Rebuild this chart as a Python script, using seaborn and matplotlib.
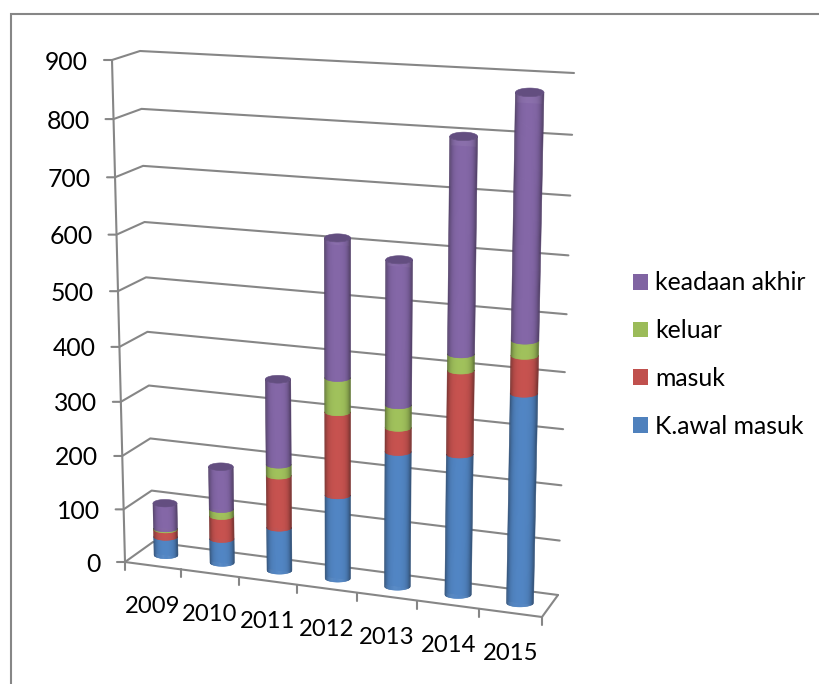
import numpy as np
import pandas as pd
import matplotlib
matplotlib.use("Agg")
import matplotlib.pyplot as plt
from matplotlib.colors import to_rgb
from matplotlib.patches import Patch
from matplotlib.transforms import Transform
import seaborn as sns

# Data
years = ["2009", "2010", "2011", "2012", "2013", "2014", "2015"]
awal_masuk = [35, 45, 80, 153, 244, 252, 370]
masuk = [14, 43, 96, 150, 43, 147, 65]
keluar = [2, 13, 20, 61, 40, 28, 26]
keadaan_akhir = [47, 78, 154, 244, 252, 367, 411]
series_names = ["K.awal masuk", "masuk", "keluar", "keadaan akhir"]
series_values = [awal_masuk, masuk, keluar, keadaan_akhir]
series_colors = ["#4F81BD", "#C0504D", "#9BBB59", "#8064A2"]
value_ticks = [0, 100, 200, 300, 400, 500, 600, 700, 800, 900]

GREY = "#868686"
FONT = "Lato"
BAR_WIDTH = 0.43
CAP_DEPTH = 7.0  # half height of the elliptical caps, in value units


def solve_homography(src, dst):
    rows, rhs = [], []
    for (a, b), (x, y) in zip(src, dst):
        rows.append([a, b, 1, 0, 0, 0, -a * x, -b * x])
        rows.append([0, 0, 0, a, b, 1, -a * y, -b * y])
        rhs += [x, y]
    return np.append(np.linalg.solve(np.array(rows, float), np.array(rhs, float)), 1).reshape(3, 3)


class Homography(Transform):
    """Perspective mapping from (category, value) to figure pixels."""
    input_dims = 2
    output_dims = 2
    is_separable = False
    has_inverse = False

    def __init__(self, matrix):
        super().__init__()
        self.matrix = matrix

    def transform_non_affine(self, values):
        pts = np.column_stack([values, np.ones(len(values))]) @ self.matrix.T
        return pts[:, :2] / pts[:, 2:]


corners = [(-0.5, 0), (6.5, 0), (-0.5, 900), (6.5, 900)]
front = Homography(solve_homography(corners, [(125, 562), (542, 617), (112, 60), (558, 84)]))
back = Homography(solve_homography(corners, [(153, 542), (558, 595), (140, 51), (574, 73)]))
bar_plane = Homography(solve_homography(
    [(0, 0), (6, 0), (0, 900), (6, 900)],
    [(166, 555), (520, 603), (156, 56), (530, 75)]))


def pt(plane, u, v):
    return plane.transform_non_affine(np.array([[u, v]], float))[0]


def level_shift(i, v, du):
    """Value offset that keeps a ring of a column level on screen despite the sloped plane."""
    eps_u, eps_v = 0.01, 1.0
    y0 = pt(bar_plane, i, v)[1]
    dy_du = (pt(bar_plane, i + eps_u, v)[1] - y0) / eps_u
    dy_dv = (pt(bar_plane, i, v + eps_v)[1] - y0) / eps_v
    return -dy_du / dy_dv * du


sns.set_theme(style="white")
plt.rcParams["font.family"] = [FONT, "DejaVu Sans"]

fig = plt.figure(figsize=(8.19, 6.84), dpi=100)
ax = fig.add_axes([0, 0, 1, 1])

plane_trans = bar_plane + ax.transData

# Flat stacked columns, tallest cumulative total first
frame = pd.DataFrame(series_values, index=series_names, columns=years).T
cumulative = frame.cumsum(axis=1)
for name, color in reversed(list(zip(series_names, series_colors))):
    sns.barplot(x=years, y=cumulative[name].values * 0.98, color=color, saturation=1,
                width=BAR_WIDTH * 0.9, errorbar=None, ax=ax, transform=plane_trans,
                linewidth=0, zorder=3)

ax.set_xlim(0, 819)
ax.set_ylim(684, 0)
ax.axis("off")

# Chart border, open towards the right and bottom edge
ax.plot([11, 11, 819], [684, 14, 14], color=GREY, lw=1.5, zorder=1, solid_joinstyle="miter")

# Walls and value gridlines
for v in value_ticks:
    f = pt(front, -0.5, v)
    b0 = pt(back, -0.5, v)
    b1 = pt(back, 6.5, v)
    ax.plot([f[0] - 8, f[0], b0[0], b1[0]], [f[1], f[1], b0[1], b1[1]],
            color=GREY, lw=1.5, zorder=1, solid_joinstyle="round")
    ax.text(f[0] - 24, f[1], str(v), ha="right", va="center_baseline",
            fontsize=17.8, color="black")

p0, p1 = pt(front, -0.5, 0), pt(front, -0.5, 900)
ax.plot([p0[0], p1[0]], [p0[1], p1[1]], color=GREY, lw=1.5, zorder=1)
fr, br = pt(front, 6.5, 0), pt(back, 6.5, 0)
ax.plot([p0[0], fr[0], br[0]], [p0[1], fr[1], br[1]], color=GREY, lw=1.5, zorder=1)

# Category ticks and labels along the front edge
for edge in np.arange(-0.5, 7):
    p = pt(front, edge, 0)
    ax.plot([p[0], p[0]], [p[1], p[1] + 8], color=GREY, lw=1.5, zorder=1)
for i, year in enumerate(years):
    p = pt(front, i, 0)
    ax.text(p[0], p[1] + 39, year, ha="center", va="center_baseline",
            fontsize=17.2, color="black")


def shade(color, s):
    """Lighting across a cylinder, s runs from -1 (left) to 1 (right)."""
    level = 1.04 - 0.12 * s**2 - 0.33 * abs(s) ** 5
    return np.clip(np.array(to_rgb(color)) * level, 0, 1)


def ring(i, v, ss):
    """Front arc of the ring at value v, for positions ss across the column."""
    du = ss * BAR_WIDTH / 2
    return v - CAP_DEPTH * np.sqrt(np.clip(1 - ss**2, 0, 1)) + level_shift(i, v, du)


# Rounded bodies and top caps of the columns
edges = np.linspace(-1, 1, 29)
for i in range(len(years)):
    low = 0.0
    for name, color in zip(series_names, series_colors):
        high = low + frame[name].iloc[i]
        for s0, s1 in zip(edges[:-1], edges[1:]):
            ss = np.linspace(s0, s1, 3)
            us = i + ss * BAR_WIDTH / 2
            c = shade(color, (s0 + s1) / 2)
            ax.fill(np.r_[us, us[::-1]], np.r_[ring(i, low, ss), ring(i, high, ss)[::-1]],
                    transform=plane_trans, facecolor=c, edgecolor=c, lw=0.4, zorder=4)
        low = high
    angle = np.linspace(0, 2 * np.pi, 60)
    cos_a = np.cos(angle)
    ax.fill(i + cos_a * BAR_WIDTH / 2,
            low + np.sin(angle) * CAP_DEPTH + level_shift(i, low, cos_a * BAR_WIDTH / 2),
            transform=plane_trans, facecolor="#634E80", edgecolor="#634E80", lw=0.4, zorder=5)

handles = [Patch(facecolor=c, edgecolor="none") for c in reversed(series_colors)]
ax.legend(handles, list(reversed(series_names)), loc="upper left",
          bbox_to_anchor=(626 / 819, 1 - 264 / 684), bbox_transform=fig.transFigure,
          frameon=False, fontsize=17.8, handlelength=0.6, handleheight=0.6,
          handletextpad=0.28, labelspacing=1.0, labelcolor="black",
          borderaxespad=0, borderpad=0.3)

fig.savefig("out.png", dpi=100)
